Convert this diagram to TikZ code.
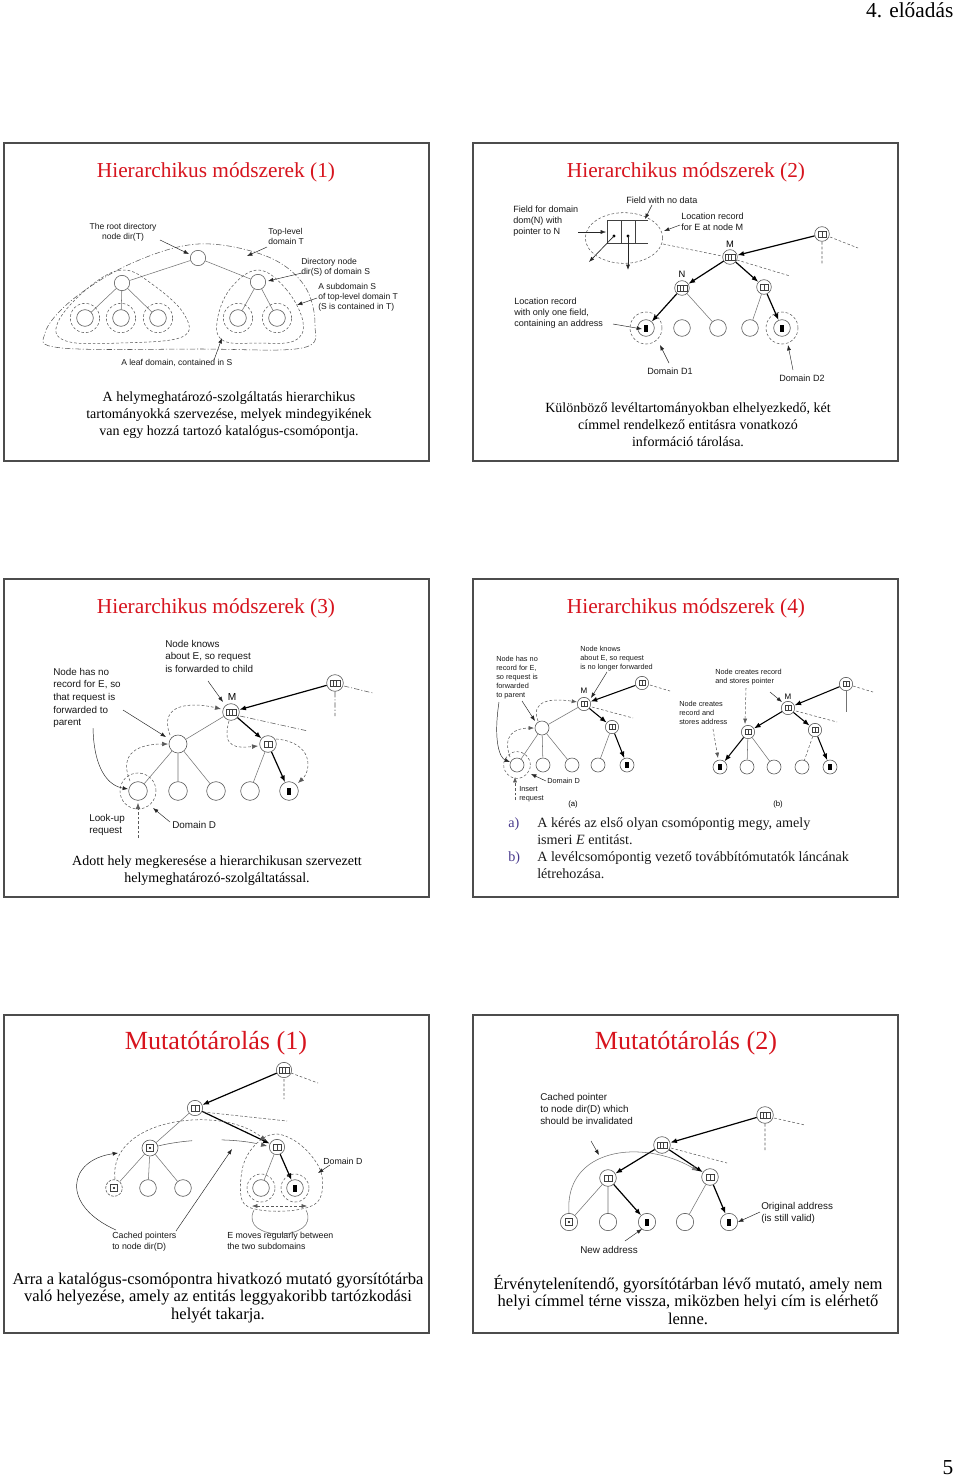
\documentclass[tikz,border=0pt]{standalone}
\usepackage{fontspec}
\setmainfont{Liberation Serif}
\newfontfamily\arial{Liberation Sans}
\usetikzlibrary{arrows.meta}
\definecolor{titred}{RGB}{215,20,30}
\definecolor{lstblue}{RGB}{70,55,140}
\newcommand\myfs[2]{\fontsize{#1}{#2}\selectfont}
\newcommand\rthree[2][1]{\begin{scope}[shift={(#2)},scale=#1]\draw[recl] (-5,-3) rectangle (5,3) (-1.7,-3)--(-1.7,3) (1.7,-3)--(1.7,3);\end{scope}}
\newcommand\rtwo[2][1]{\begin{scope}[shift={(#2)},scale=#1]\draw[recl] (-4,-3) rectangle (4,3) (0,-3)--(0,3);\end{scope}}
\newcommand\blk[2][1]{\begin{scope}[shift={(#2)},scale=#1]\fill (-2,-3.5) rectangle (2,3.5);\end{scope}}
\newcommand\sqd[2][1]{\begin{scope}[shift={(#2)},scale=#1]\draw[recl] (-3.5,-3.5) rectangle (3.5,3.5);\fill (0,0) circle (0.9pt);\end{scope}}
\begin{document}
\begin{tikzpicture}[x=0.75pt,y=-0.75pt,
 slideframe/.style={draw=black!70,line width=1.3pt},
 ttl/.style={text=titred,font=\myfs{16}{18}},
 bigttl/.style={text=titred,font=\myfs{19.6}{22}},
 captxt/.style={align=center,font=\myfs{10.5}{12.8},inner sep=0pt},
 bigcap/.style={align=center,font=\myfs{12.4}{13.2},inner sep=0pt},
 nd/.style={circle,draw=black!65,line width=0.45pt,minimum size=12pt,inner sep=0pt},
 ln/.style={draw=black!55,line width=0.4pt},
 arr/.style={-{Latex[length=5pt,width=3.8pt]},line width=0.9pt,black},
 ann/.style={-{Latex[length=4pt,width=3pt]},line width=0.35pt,black!85},
 dsh/.style={dash pattern=on 2pt off 1.5pt,line width=0.4pt,black!65},
 dashdot/.style={dash pattern=on 4pt off 1.5pt on 0.8pt off 1.5pt,line width=0.4pt,black!65},
 recl/.style={line width=0.35pt,black!75},
 lbl/.style={align=left,inner sep=0pt,anchor=north west,text=black!90},
 lblA/.style={lbl,font=\arial\myfs{6.4}{7.5}},
 lblB/.style={lbl,font=\arial\myfs{6.8}{8.3}},
 lblC/.style={lbl,font=\arial\myfs{7.4}{9.4}},
 lblD/.style={lbl,font=\arial\myfs{5.5}{6.8}},
 lblE/.style={lbl,font=\arial\myfs{6.6}{8.2}},
 lblF/.style={lbl,font=\arial\myfs{7.4}{9.1}}
]
\useasboundingbox (0,0) rectangle (960,1479);
\fill[white] (0,0) rectangle (960,1479);
\node[anchor=base east,font=\myfs{16}{18}] (hdr) at (958,17) {4. előadás};
\node[anchor=base east,font=\myfs{16}{18}] (pg) at (958,1474) {5};

% ================= Slide 1
\draw[slideframe] (4,143) rectangle (429,461);
\node[ttl] (t1) at (216,172) {Hierarchikus módszerek (1)};
\node[nd,minimum size=11.5pt] (r1) at (198,258) {};
\node[nd,minimum size=11.5pt] (l1) at (122,283) {};
\node[nd,minimum size=11.5pt] (s1) at (258,282) {};
\node[nd,minimum size=12.5pt] (p1a) at (85,318) {};
\node[nd,minimum size=12.5pt] (p1b) at (121,318) {};
\node[nd,minimum size=12.5pt] (p1c) at (158,318) {};
\node[nd,minimum size=12.5pt] (p1d) at (238,318) {};
\node[nd,minimum size=12.5pt] (p1e) at (277,318) {};
\draw[ln] (r1)--(l1) (r1)--(s1) (l1)--(p1a) (l1)--(p1b) (l1)--(p1c) (s1)--(p1d) (s1)--(p1e);
\foreach \n in {p1a,p1b,p1c,p1d,p1e} \draw[dsh] (\n) circle (11pt);
\draw[dsh] plot[smooth cycle,tension=0.65] coordinates {(122,270) (152,284) (184,314) (182,337) (120,343) (66,341) (58,322) (88,288)};
\draw[dsh] plot[smooth cycle,tension=0.65] coordinates {(258,270) (286,289) (303,322) (294,341) (258,343) (224,341) (217,322) (230,289)};
\draw[dashdot] plot[smooth cycle,tension=0.6] coordinates {(198,244) (266,256) (304,285) (315,325) (302,348) (200,349) (62,348) (45,333) (72,300) (130,264)};
\node[lblA,align=center,anchor=north] (a1) at (123,223) {The root directory\\node dir(T)};
\draw[ann] (160,240) -- (189,254);
\node[lblA] (a2) at (268,228) {Top-level\\domain T};
\draw[ann] (267,247) -- (247,256);
\node[lblA] (a3) at (301,258) {Directory node\\dir(S) of domain S};
\draw[ann] (302,273) -- (268,281);
\node[lblA] (a4) at (318,283) {A subdomain S\\of top-level domain T\\(S is contained in T)};
\draw[ann] (317,298) -- (297,305);
\node[lblA,anchor=west] (a5) at (121,363) {A leaf domain, contained in S};
\draw[ann] (214,360) -- (222,338);
\node[captxt] (c1) at (229,415) {A helymeghatározó-szolgáltatás hierarchikus\\tartományokká szervezése, melyek mindegyikének\\van egy hozzá tartozó katalógus-csomópontja.};

% ================= Slide 2
\draw[slideframe] (473,143) rectangle (898,461);
\node[ttl] (t2) at (686,172) {Hierarchikus módszerek (2)};
\node[nd,minimum size=11pt] (M2) at (730,257) {};
\node[nd,minimum size=11pt] (N2) at (682,288) {};
\node[nd,minimum size=11pt] (C2) at (764,287) {};
\node[nd,minimum size=11pt] (T2) at (822,234) {};
\node[nd,minimum size=12.5pt] (q1) at (646,328) {};
\node[nd,minimum size=12.5pt] (q2) at (682,328) {};
\node[nd,minimum size=12.5pt] (q3) at (718,328) {};
\node[nd,minimum size=12.5pt] (q4) at (750,328) {};
\node[nd,minimum size=12.5pt] (q5) at (782,328) {};
\draw[ln] (N2)--(q3) (C2)--(q4);
\draw[arr] (T2)--(M2);
\draw[arr] (M2)--(N2);
\draw[arr] (M2)--(C2);
\draw[arr] (N2)--(q1);
\draw[arr] (C2)--(q5);
\draw[dsh] (737,260)--(790,276) (830,237)--(858,248) (822,242)--(822,264);
\draw[dsh] (q1) circle (12pt) (q5) circle (12pt);
\rthree{M2}\rthree{N2}\rtwo{C2}\rtwo{T2}\blk{q1}\blk{q5}
% record detail
\draw[recl] (648,220)--(607,220)--(607,243)--(648,243) (621,220)--(621,243) (635,220)--(635,243);
\fill (614,236) circle (1.3pt) (628,236) circle (1.3pt);
\coordinate (d1) at (614,236); \coordinate (d2) at (628,236);
\draw[ann,line width=0.5pt] (d1) -- (589,262);
\draw[ann,line width=0.5pt] (d2) -- (628,270);
\draw[dsh] (624,238) ellipse (29pt and 19pt);
\draw[dsh] (663,244)--(722,256);
\node[lblB,anchor=west] (b1) at (626,200) {Field with no data};
\draw[ann] (652,205) -- (645,219);
\node[lblB] (b2) at (513,206) {Field for domain\\dom(N) with\\pointer to N};
\draw[ann] (578,232) -- (606,232);
\node[lblB] (b3) at (681,213) {Location record\\for E at node M};
\draw[ann] (680,225) -- (664,231);
\node[font=\arial\myfs{7}{8},inner sep=0pt] (bM) at (730,244) {M};
\node[font=\arial\myfs{7}{8},inner sep=0pt] (bN) at (682,274) {N};
\node[lblB] (b4) at (514,298) {Location record\\with only one field,\\containing an address};
\draw[ann] (613,324) -- (642,329);
\node[lblB,anchor=west] (b5) at (647,371) {Domain D1};
\draw[ann] (669,363) -- (660,345);
\node[lblB,anchor=west] (b6) at (779,378) {Domain D2};
\draw[ann] (793,370) -- (788,345);
\node[captxt] (c2) at (688,425) {Különböző levéltartományokban elhelyezkedő, két\\címmel rendelkező entitásra vonatkozó\\információ tárolása.};

% ================= Slide 3
\draw[slideframe] (4,579) rectangle (429,897);
\node[ttl] (t3) at (216,608) {Hierarchikus módszerek (3)};
\node[nd,minimum size=12.5pt] (M3) at (231,712) {};
\node[nd,minimum size=12.5pt] (T3) at (335,683) {};
\node[nd,minimum size=13.5pt] (P3) at (178,744) {};
\node[nd,minimum size=12.5pt] (C3) at (268,744) {};
\node[nd,minimum size=14pt] (r3a) at (138,791) {};
\node[nd,minimum size=14pt] (r3b) at (178,791) {};
\node[nd,minimum size=14pt] (r3c) at (216,791) {};
\node[nd,minimum size=14pt] (r3d) at (250,791) {};
\node[nd,minimum size=14pt] (r3e) at (289,791) {};
\draw[ln] (M3)--(P3) (P3)--(r3a) (P3)--(r3b) (P3)--(r3c) (C3)--(r3d);
\draw[arr] (T3)--(M3);
\draw[arr] (M3)--(C3);
\draw[arr] (C3)--(r3e);
\draw[dashdot] (240,716)--(308,731);
\draw[dashdot] (344,686)--(373,693) (335,692)--(335,716);
\rthree{M3}\rthree{T3}\rtwo{C3}\blk{r3e}
\draw[dsh] (r3a) circle (13.5pt);
\draw[dsh,-{Latex[length=4.5pt,width=3.5pt]}] (130,781) .. controls (118,752) and (140,744) .. (168,744);
\draw[dsh,-{Latex[length=4.5pt,width=3.5pt]}] (170,735) .. controls (158,703) and (192,702) .. (221,709);
\draw[dsh,-{Latex[length=4.5pt,width=3.5pt]}] (229,721) .. controls (221,749) and (238,748) .. (258,746);
\draw[dsh,-{Latex[length=4.5pt,width=3.5pt]}] (276,739) .. controls (313,742) and (312,770) .. (298,783);
\draw[dsh,-{Latex[length=4.5pt,width=3.5pt]}] (138,838) -- (138,803);
\node[lblC] (e1) at (165,640) {Node knows\\about E, so request\\is forwarded to child};
\draw[ann] (208,681) -- (223,702);
\node[font=\arial\myfs{7.6}{8},inner sep=0pt] (eM) at (232,697) {M};
\node[lblC] (e2) at (53,668) {Node has no\\record for E, so\\that request is\\forwarded to\\parent};
\draw[ann] (123,710) -- (166,737);
\draw[ann] (93,728) .. controls (94,772) and (110,786) .. (128,789);
\node[lblC] (e3) at (89,814) {Look-up\\request};
\node[lblC,anchor=west] (e4) at (172,825) {Domain D};
\draw[ann] (170,822) -- (153,808);
\node[captxt] (c3) at (217,871) {Adott hely megkeresése a hierarchikusan szervezett\\helymeghatározó-szolgáltatással.};

% ================= Slide 4
\draw[slideframe] (473,579) rectangle (898,897);
\node[ttl] (t4) at (686,608) {Hierarchikus módszerek (4)};
% (a)
\node[nd,minimum size=10pt] (M4) at (584,704) {};
\node[nd,minimum size=10pt] (T4) at (642,683) {};
\node[nd,minimum size=10.5pt] (P4) at (542,728) {};
\node[nd,minimum size=10pt] (C4) at (612,727) {};
\node[nd,minimum size=10.5pt] (s4a) at (517,765) {};
\node[nd,minimum size=10.5pt] (s4b) at (543,765) {};
\node[nd,minimum size=10.5pt] (s4c) at (572,765) {};
\node[nd,minimum size=10.5pt] (s4d) at (598,765) {};
\node[nd,minimum size=10.5pt] (s4e) at (627,765) {};
\draw[ln] (M4)--(P4) (P4)--(s4a) (P4)--(s4b) (P4)--(s4c) (C4)--(s4d);
\draw[arr,line width=0.8pt] (T4)--(M4);
\draw[arr,line width=0.8pt] (M4)--(C4);
\draw[arr,line width=0.8pt] (C4)--(s4e);
\draw[dsh] (592,707)--(633,718) (650,685)--(670,691);
\rtwo[0.8]{M4}\rtwo[0.8]{T4}\rtwo[0.8]{C4}\blk[0.8]{s4e}
\draw[dsh] (s4a) circle (10pt);
\draw[dsh,-{Latex[length=4pt,width=3pt]}] (510,757) .. controls (502,735) and (515,728) .. (534,728);
\draw[dsh,-{Latex[length=4pt,width=3pt]}] (538,721) .. controls (530,700) and (552,698) .. (577,702);
\draw[dsh,-{Latex[length=4pt,width=3pt]}] (515,800) -- (515,777);
\node[lblD] (f1) at (580,646) {Node knows\\about E, so request\\is no longer forwarded};
\draw[ann] (607,672) -- (591,698);
\node[font=\arial\myfs{6}{7},inner sep=0pt] (fM) at (584,691) {M};
\node[lblD] (f2) at (496,656) {Node has no\\record for E,\\so request is\\forwarded\\to parent};
\draw[ann] (522,701) -- (535,721);
\draw[ann] (499,702) .. controls (493,742) and (500,758) .. (510,762);
\node[lblD,anchor=west] (f3) at (547,781) {Domain D};
\draw[ann] (546,781) -- (531,774);
\node[lblD] (f4) at (519,786) {Insert\\request};
\node[font=\arial\myfs{5.8}{7},inner sep=0pt] (fa) at (573,804) {(a)};
% (b)
\node[nd,minimum size=10pt] (M5) at (788,708) {};
\node[nd,minimum size=10pt] (T5) at (846,684) {};
\node[nd,minimum size=10pt] (L5) at (748,732) {};
\node[nd,minimum size=10pt] (R5) at (815,730) {};
\node[nd,minimum size=10.5pt] (u5a) at (720,767) {};
\node[nd,minimum size=10.5pt] (u5b) at (747,767) {};
\node[nd,minimum size=10.5pt] (u5c) at (774,767) {};
\node[nd,minimum size=10.5pt] (u5d) at (802,767) {};
\node[nd,minimum size=10.5pt] (u5e) at (830,767) {};
\draw[ln] (L5)--(u5b) (L5)--(u5c);
\draw[dsh] (R5)--(u5d);
\draw[arr,line width=0.8pt] (T5)--(M5);
\draw[arr,line width=0.8pt] (M5)--(L5);
\draw[arr,line width=0.8pt] (M5)--(R5);
\draw[arr,line width=0.8pt] (L5)--(u5a);
\draw[arr,line width=0.8pt] (R5)--(u5e);
\draw[dsh] (796,711)--(837,722) (853,686)--(873,692);
\draw[ln] (846,691)--(846,712);
\rtwo[0.8]{M5}\rtwo[0.8]{T5}\rtwo[0.8]{L5}\rtwo[0.8]{R5}\blk[0.8]{u5a}\blk[0.8]{u5e}
\node[lblD] (g1) at (715,669) {Node creates record\\and stores pointer};
\draw[dsh,-{Latex[length=4pt,width=3pt]}] (746,688) -- (745,724);
\draw[ann] (770,692) -- (782,702);
\node[font=\arial\myfs{6}{7},inner sep=0pt] (gM) at (788,697) {M};
\node[lblD] (g2) at (679,701) {Node creates\\record and\\stores address};
\draw[dsh,-{Latex[length=4pt,width=3pt]}] (713,729) -- (718,758);
\node[font=\arial\myfs{5.8}{7},inner sep=0pt] (gb) at (778,804) {(b)};
% list
\node[lbl,font=\myfs{10.6}{12.8},text=lstblue] (la) at (508,817) {a)};
\node[lbl,font=\myfs{10.6}{12.8}] (lat) at (537,817) {A kérés az első olyan csomópontig megy, amely\\ismeri \textit{E} entitást.};
\node[lbl,font=\myfs{10.6}{12.8},text=lstblue] (lb) at (508,851) {b)};
\node[lbl,font=\myfs{10.6}{12.8}] (lbt) at (537,851) {A levélcsomópontig vezető továbbítómutatók láncának\\létrehozása.};

% ================= Slide 5
\draw[slideframe] (4,1015) rectangle (429,1333);
\node[bigttl] (t5) at (216,1043) {Mutatótárolás (1)};
\node[nd,minimum size=11.5pt] (A5) at (284,1070) {};
\node[nd,minimum size=11.5pt] (B5) at (195,1108) {};
\node[nd,minimum size=11.5pt] (D5) at (277,1147) {};
\node[nd,minimum size=12pt] (L5x) at (150,1148) {};
\node[nd,minimum size=12.5pt,dash pattern=on 2pt off 1pt] (v5a) at (114,1188) {};
\node[nd,minimum size=12.5pt] (v5b) at (148,1188) {};
\node[nd,minimum size=12.5pt] (v5c) at (183,1188) {};
\node[nd,minimum size=12.5pt] (w5a) at (261,1188) {};
\node[nd,minimum size=12.5pt] (w5b) at (295,1188) {};
\draw[ln] (B5)--(L5x) (L5x)--(v5a) (L5x)--(v5b) (L5x)--(v5c) (D5)--(w5a);
\draw[arr] (A5)--(B5);
\draw[arr] (B5)--(D5);
\draw[arr] (D5)--(w5b);
\draw[dsh] (291,1073)--(318,1083) (284,1079)--(284,1099) (203,1112)--(287,1121);
\rthree{A5}\rtwo{B5}\rtwo{D5}\sqd{L5x}\sqd{v5a}\blk{w5b}
\draw[dsh] (w5a) circle (10.5pt) (w5b) circle (10.5pt);
\draw[dsh] plot[smooth cycle,tension=0.6] coordinates {(277,1134) (302,1146) (321,1172) (319,1200) (296,1210) (260,1210) (242,1200) (243,1166) (257,1143)};
\draw[dsh,-{Latex[length=4.5pt,width=3.5pt]}] (115,1179) .. controls (108,1118) and (222,1104) .. (266,1141);
\draw[dash pattern=on 26pt off 22pt,line width=0.4pt,black!65,-{Latex[length=4.5pt,width=3.5pt]}] (158,1146) .. controls (190,1138) and (235,1138) .. (267,1146);
\draw[dsh,{Latex[length=4pt,width=3pt]}-{Latex[length=4pt,width=3pt]}] (252,1206) -- (307,1206);
\draw[ln] (254,1210) .. controls (238,1242) and (322,1242) .. (306,1210);
\node[lblE] (h1) at (112,1232) {Cached pointers\\to node dir(D)};
\draw[ann] (116,1230) .. controls (60,1205) and (68,1160) .. (118,1153);
\draw[ann] (176,1231) -- (232,1149);
\node[lblE] (h2) at (227,1232) {E moves regularly between\\the two subdomains};
\node[lblE,anchor=west] (h3) at (323,1161) {Domain D};
\draw[ann] (330,1165) -- (318,1173);
\node[bigcap] (c5) at (218,1298) {Arra a katalógus-csomópontra hivatkozó mutató gyorsítótárba\\való helyezése, amely az entitás leggyakoribb tartózkodási\\helyét takarja.};

% ================= Slide 6
\draw[slideframe] (473,1015) rectangle (898,1333);
\node[bigttl] (t6) at (686,1043) {Mutatótárolás (2)};
\node[nd,minimum size=12.5pt] (A6) at (765,1115) {};
\node[nd,minimum size=12.5pt] (B6) at (662,1145) {};
\node[nd,minimum size=12.5pt] (L6) at (608,1178) {};
\node[nd,minimum size=12.5pt] (R6) at (710,1177) {};
\node[nd,minimum size=13pt] (x6a) at (569,1222) {};
\node[nd,minimum size=13pt] (x6b) at (608,1222) {};
\node[nd,minimum size=13pt] (x6c) at (647,1222) {};
\node[nd,minimum size=13pt] (x6d) at (685,1222) {};
\node[nd,minimum size=13pt] (x6e) at (729,1222) {};
\draw[ln] (L6)--(x6a) (L6)--(x6b) (R6)--(x6d);
\draw[arr] (A6)--(B6);
\draw[arr] (B6)--(L6);
\draw[arr] (B6)--(R6);
\draw[arr] (L6)--(x6c);
\draw[arr] (R6)--(x6e);
\draw[dsh] (774,1118)--(805,1125) (765,1124)--(765,1150) (671,1148)--(727,1163);
\rthree{A6}\rthree{B6}\rtwo{L6}\rtwo{R6}\sqd{x6a}\blk{x6c}\blk{x6e}
\draw[ln,-{Latex[length=4.5pt,width=3.5pt]}] (569,1213) .. controls (564,1148) and (642,1138) .. (698,1171);
\node[lblF] (k1) at (540,1093) {Cached pointer\\to node dir(D) which\\should be invalidated};
\draw[ann] (591,1141) -- (599,1155);
\node[lblF] (k2) at (761,1202) {Original address\\(is still valid)};
\draw[ann] (760,1212) -- (738,1222);
\node[lblF,anchor=west] (k3) at (580,1250) {New address};
\draw[ann] (625,1241) -- (642,1229);
\node[bigcap] (c6) at (688,1300) {Érvénytelenítendő, gyorsítótárban lévő mutató, amely nem\\helyi címmel térne vissza, miközben helyi cím is elérhető\\lenne.};
\end{tikzpicture}
\end{document}
